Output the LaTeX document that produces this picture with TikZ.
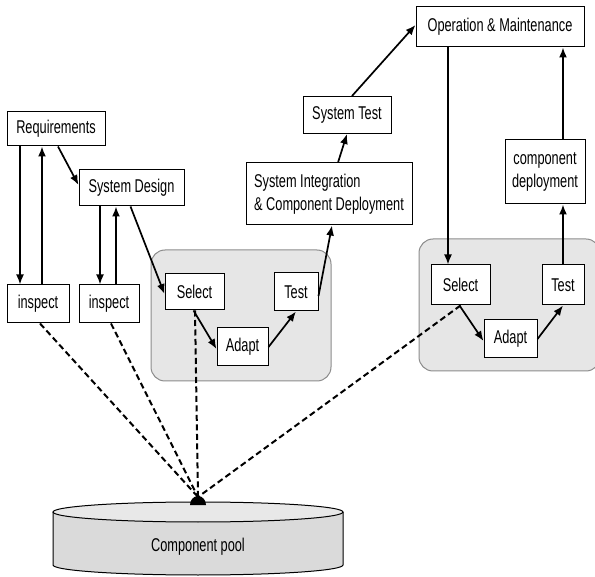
\documentclass[tikz,border=0pt]{standalone}
\usepackage{fontspec}
\setmainfont{Liberation Sans}[FakeStretch=0.69]
\usetikzlibrary{arrows.meta}
\definecolor{panel}{HTML}{E6E6E6}
\definecolor{panelline}{HTML}{8C8C8C}
\definecolor{poolside}{HTML}{DADADA}
\definecolor{pooltop}{HTML}{E8E8E8}
\tikzset{
  box/.style={draw, line width=1pt, fill=white, inner sep=0pt, align=center,
    font=\fontsize{18.5}{23}\selectfont},
  arr/.style={-{Latex[length=10pt,width=8pt]}, line width=1.7pt},
  dashlink/.style={line width=2pt, dash pattern=on 6pt off 3.5pt},
  panelbox/.style={draw=panelline, fill=panel, line width=1pt, rounded corners=14pt}
}
\begin{document}
\begin{tikzpicture}[x=1pt,y=-1pt]
\useasboundingbox (0,0) rectangle (595,577);
\clip (0,0) rectangle (595,577);

% grey work areas
\draw[panelbox] (151,250) rectangle (331,381);
\draw[panelbox] (419,239) rectangle (600,371);

% component pool cylinder (y axis points down, so angle 90 is the lower side)
\draw[line width=1pt, fill=poolside] (53,512) -- (53,565) arc[start angle=180, end angle=0, x radius=145, y radius=10] -- (343,512);
\draw[line width=1pt, fill=pooltop] (198,512) ellipse[x radius=145, y radius=10];
\node[font=\fontsize{18.5}{20}\selectfont] (pool) at (198,547) {Component pool};
\fill (190,505) arc[start angle=180, end angle=360, x radius=8, y radius=9] -- cycle;
\coordinate (hub) at (198,497);

% process boxes
\node[box, minimum width=98, minimum height=34] (req) at (56,129) {Requirements};
\node[box, minimum width=105, minimum height=36] (sd) at (131.5,188) {System Design};
\node[box, minimum width=62, minimum height=38] (ins1) at (38,304) {inspect};
\node[box, minimum width=60, minimum height=38] (ins2) at (109,304) {inspect};
\node[box, minimum width=59, minimum height=36] (sel1) at (194.5,292) {Select};
\node[box, minimum width=51, minimum height=38] (ad1) at (242.5,347) {Adapt};
\node[box, minimum width=44, minimum height=38] (te1) at (296,292) {Test};
\node[box, minimum width=166, minimum height=62, align=left] (si) at (329,194) {System Integration\\\& Component Deployment};
\node[box, minimum width=88, minimum height=37] (st) at (347,115) {System Test};
\node[box, minimum width=168, minimum height=40] (om) at (500,27) {Operation \& Maintenance};
\node[box, minimum width=80, minimum height=64] (cd) at (545,172) {component\\deployment};
\node[box, minimum width=59, minimum height=40] (sel2) at (460.5,285) {Select};
\node[box, minimum width=53, minimum height=38] (ad2) at (510.5,339) {Adapt};
\node[box, minimum width=42, minimum height=40] (te2) at (563,285) {Test};

% links to the component pool
\draw[dashlink] ([xshift=2]ins1.south) -- (hub);
\draw[dashlink] ([xshift=2]ins2.south) -- (hub);
\draw[dashlink] ([xshift=0.5]sel1.south) -- (hub);
\draw[dashlink] (sel2.south) -- (hub);

% development flow
\draw[arr] ([xshift=-36]req.south) -- ([xshift=-18]ins1.north);
\draw[arr] ([xshift=4]ins1.north) -- ([xshift=-14]req.south);
\draw[arr] ([xshift=2]req.south) -- ([yshift=3]sd.west);
\draw[arr] ([xshift=-31.5]sd.south) -- ([xshift=-9]ins2.north);
\draw[arr] ([xshift=7]ins2.north) -- ([xshift=-15.5]sd.south);
\draw[arr] ([xshift=-1]sd.south) -- ([yshift=-2]sel1.west);
\draw[arr] ([xshift=-1]sel1.south) -- ([yshift=-2]ad1.west);
\draw[arr] (ad1.east) -- (te1.south);
\draw[arr] ([yshift=-4]te1.east) -- ([xshift=3]si.south);
\draw[arr] ([xshift=9]si.north) -- (st.south);
\draw[arr] ([xshift=5]st.north) -- ([yshift=2]om.west);
\draw[arr] ([xshift=-52]om.south) -- ([xshift=-12.5]sel2.north);
\draw[arr] ([xshift=-1]sel2.south) -- ([yshift=-2]ad2.west);
\draw[arr] (ad2.east) -- (te2.south);
\draw[arr] (te2.north) -- ([xshift=18]cd.south);
\draw[arr] ([xshift=18]cd.north) -- ([xshift=63]om.south);
\end{tikzpicture}
\end{document}
